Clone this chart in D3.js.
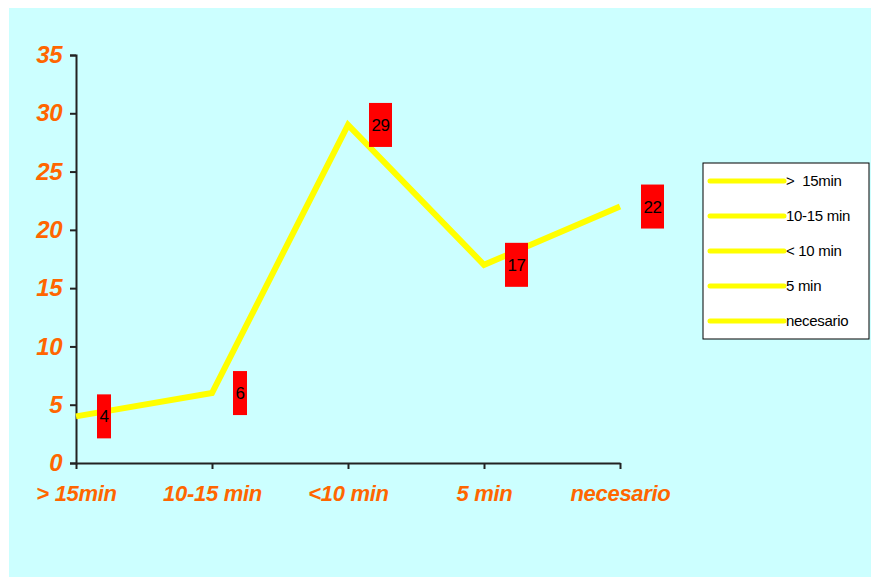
<!DOCTYPE html>
<html>
<head>
<meta charset="utf-8">
<script src="https://cdn.jsdelivr.net/npm/d3@7"></script>
<style>
  html, body { margin: 0; padding: 0; background: #ffffff; }
  svg { display: block; }
</style>
</head>
<body>
<svg id="chart" width="871" height="578"></svg>
<script>
// Response-time categories and their counts
const categories = ["> 15min", "10-15 min", "<10 min", "5 min", "necesario"];
const values = [4, 6, 29, 17, 22];
const yTicks = [0, 5, 10, 15, 20, 25, 30, 35];
const legendLabels = [">  15min", "10-15 min", "< 10 min", "5 min", "necesario"];

const svg = d3.select("#chart");

// Chart area background
svg.append("rect")
  .attr("x", 9).attr("y", 8)
  .attr("width", 862).attr("height", 569)
  .attr("fill", "#ccffff");

const x = d3.scalePoint().domain(categories).range([76, 620]);
const y = d3.scaleLinear().domain([0, 35]).range([463, 55]);

const labelFont = "'Liberation Sans', Arial, sans-serif";
const orange = "#ff6600";

// Y axis
const yAxis = svg.append("g")
  .attr("transform", "translate(76,0)")
  .call(d3.axisLeft(y).tickValues(yTicks).tickSize(6).tickPadding(8).tickFormat(d3.format("d")));
yAxis.select(".domain").attr("stroke", "#222").attr("stroke-width", 2);
yAxis.selectAll(".tick line").attr("stroke", "#222").attr("stroke-width", 2);
yAxis.selectAll(".tick text")
  .attr("fill", orange)
  .style("font-family", labelFont)
  .style("font-size", "24px")
  .style("font-style", "italic")
  .style("font-weight", "bold")
  .style("letter-spacing", "-0.5px");

// X axis
const xAxis = svg.append("g")
  .attr("transform", "translate(0,463)")
  .call(d3.axisBottom(x).tickSize(6).tickSizeOuter(0).tickPadding(16));
xAxis.select(".domain").attr("stroke", "#222").attr("stroke-width", 2);
xAxis.selectAll(".tick line").attr("stroke", "#222").attr("stroke-width", 2);
xAxis.selectAll(".tick text")
  .attr("fill", orange)
  .attr("xml:space", "preserve")
  .style("white-space", "pre")
  .style("font-family", labelFont)
  .style("font-size", "22px")
  .style("font-style", "italic")
  .style("font-weight", "bold")
  .style("letter-spacing", "-0.3px");

// Data line
const line = d3.line()
  .x((d, i) => x(categories[i]))
  .y(d => y(d));

svg.append("path")
  .datum(values)
  .attr("d", line)
  .attr("fill", "none")
  .attr("stroke", "#ffff00")
  .attr("stroke-width", 6)
  .attr("stroke-linejoin", "miter");

// Value labels in red boxes to the right of each point
const boxW = d => String(d).length > 1 ? 23 : 14;
const labels = svg.append("g").selectAll("g")
  .data(values)
  .join("g")
  .attr("transform", (d, i) => `translate(${x(categories[i]) + 21},${y(d)})`);

labels.append("rect")
  .attr("x", 0)
  .attr("y", -22)
  .attr("width", boxW)
  .attr("height", 44)
  .attr("fill", "#ff0000");

labels.append("text")
  .attr("x", d => boxW(d) / 2)
  .attr("y", 0)
  .attr("dy", "0.36em")
  .attr("text-anchor", "middle")
  .style("font-family", labelFont)
  .style("font-size", "17px")
  .style("letter-spacing", "-0.5px")
  .attr("fill", "#000")
  .text(d => d);

// Legend
const legend = svg.append("g");
legend.append("rect")
  .attr("x", 703).attr("y", 163)
  .attr("width", 166).attr("height", 176)
  .attr("fill", "#ffffff")
  .attr("stroke", "#000")
  .attr("stroke-width", 1);

const rowY = d3.scalePoint().domain(legendLabels).range([181, 321]);
const rows = legend.selectAll("g")
  .data(legendLabels)
  .join("g")
  .attr("transform", d => `translate(0,${rowY(d)})`);

rows.append("line")
  .attr("x1", 710).attr("x2", 784)
  .attr("y1", 0).attr("y2", 0)
  .attr("stroke", "#ffff00")
  .attr("stroke-width", 5)
  .attr("stroke-linecap", "round");

rows.append("text")
  .attr("x", 786)
  .attr("y", 0)
  .attr("dy", "0.36em")
  .attr("xml:space", "preserve")
  .style("white-space", "pre")
  .style("font-family", labelFont)
  .style("font-size", "15px")
  .style("letter-spacing", "-0.3px")
  .attr("fill", "#000")
  .text(d => d);
</script>
</body>
</html>
